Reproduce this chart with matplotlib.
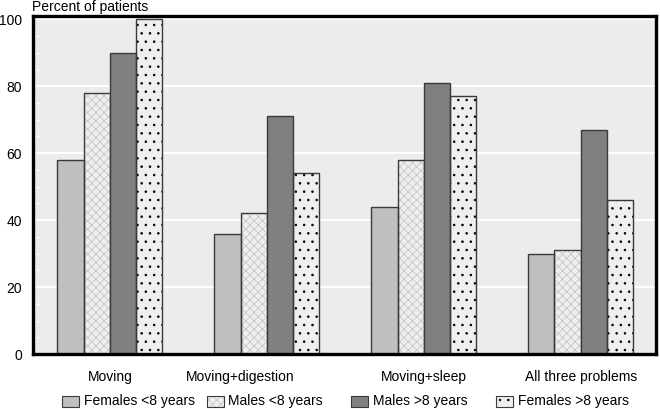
import matplotlib
matplotlib.use("Agg")
import matplotlib.pyplot as plt
import numpy as np
from matplotlib.patches import Rectangle
from matplotlib.ticker import MultipleLocator

##############################################################################
# data

categories = ["Moving", "Moving+digestion", "Moving+sleep", "All three problems"]
label_pos = [0.0, 0.83, 2.0, 3.0]
series = ["Females <8 years", "Males <8 years", "Males >8 years", "Females >8 years"]
females_lt8 = [58, 36, 44, 30]
males_lt8 = [78, 42, 58, 31]
males_gt8 = [90, 71, 81, 67]
females_gt8 = [100, 54, 77, 46]
yticks = [0, 20, 40, 60, 80, 100]

##############################################################################
# style

plt.rcParams["font.family"] = ["Liberation Sans", "DejaVu Sans"]
plt.rcParams["font.size"] = 10
plt.rcParams["hatch.linewidth"] = 0.6

bg = "#ececec"
edge = "#3a3a3a"
styles = [
    dict(fc="#bfbfbf", hatch=None, hc=None),
    dict(fc="none", hatch="xxxx", hc="#c6c6c6"),
    dict(fc="#808080", hatch=None, hc=None),
    dict(fc="none", hatch="..", hc="black"),
]

fig = plt.figure(figsize=(6.6, 4.09), dpi=100)
ax = fig.add_axes([33 / 660, 1 - 354 / 409, 623 / 660, 338 / 409])
ax.set_facecolor(bg)

x = np.arange(len(categories))
w = 0.167
values = [females_lt8, males_lt8, males_gt8, females_gt8]
for i, (vals, st) in enumerate(zip(values, styles)):
    pos = x + (i - 1.5) * w
    if st["hatch"]:
        ax.bar(pos, vals, w, color="#efefef", edgecolor=st["hc"], hatch=st["hatch"],
               linewidth=0, zorder=2)
    ax.bar(pos, vals, w, color=st["fc"], edgecolor=edge, linewidth=1.0, zorder=3)

ax.set_xlim(-0.49, 3.48)
ax.set_ylim(0, 101)
ax.set_yticks(yticks)
ax.yaxis.set_minor_locator(MultipleLocator(5))
ax.tick_params(axis="y", which="major", length=0, pad=8, labelsize=10)
ax.tick_params(axis="y", which="minor", direction="in", length=4, width=1, color="white")
ax.set_xticks([])
ax.grid(axis="y", which="major", color="white", linewidth=1.5, zorder=1)
ax.set_axisbelow(True)
for s in ax.spines.values():
    s.set_linewidth(2.4)
    s.set_color("black")
    s.set_zorder(5)

# category labels
for p, c in zip(label_pos, categories):
    ax.text(p, -0.068, c, transform=ax.get_xaxis_transform(), ha="center", va="center",
            fontsize=10)

fig.text(32 / 660, 1 - 7 / 409, "Percent of patients", ha="left", va="center", fontsize=10)

# legend, evenly spaced entries
for i, (lab, st) in enumerate(zip(series, styles)):
    x0 = (62 + 144.5 * i) / 660
    y0 = 1 - 406.5 / 409
    fc = st["fc"] if st["fc"] != "none" else "#efefef"
    if st["hatch"]:
        fig.patches.append(Rectangle((x0, y0), 17 / 660, 11 / 409, transform=fig.transFigure,
                                     facecolor=fc, edgecolor=st["hc"], hatch=st["hatch"],
                                     linewidth=0))
    fig.patches.append(Rectangle((x0, y0), 17 / 660, 11 / 409, transform=fig.transFigure,
                                 facecolor="none" if st["hatch"] else fc,
                                 edgecolor=edge, linewidth=0.8))
    fig.text(x0 + 22 / 660, y0 + 5.5 / 409, lab, ha="left", va="center", fontsize=10)

plt.savefig("out.png", dpi=100)
